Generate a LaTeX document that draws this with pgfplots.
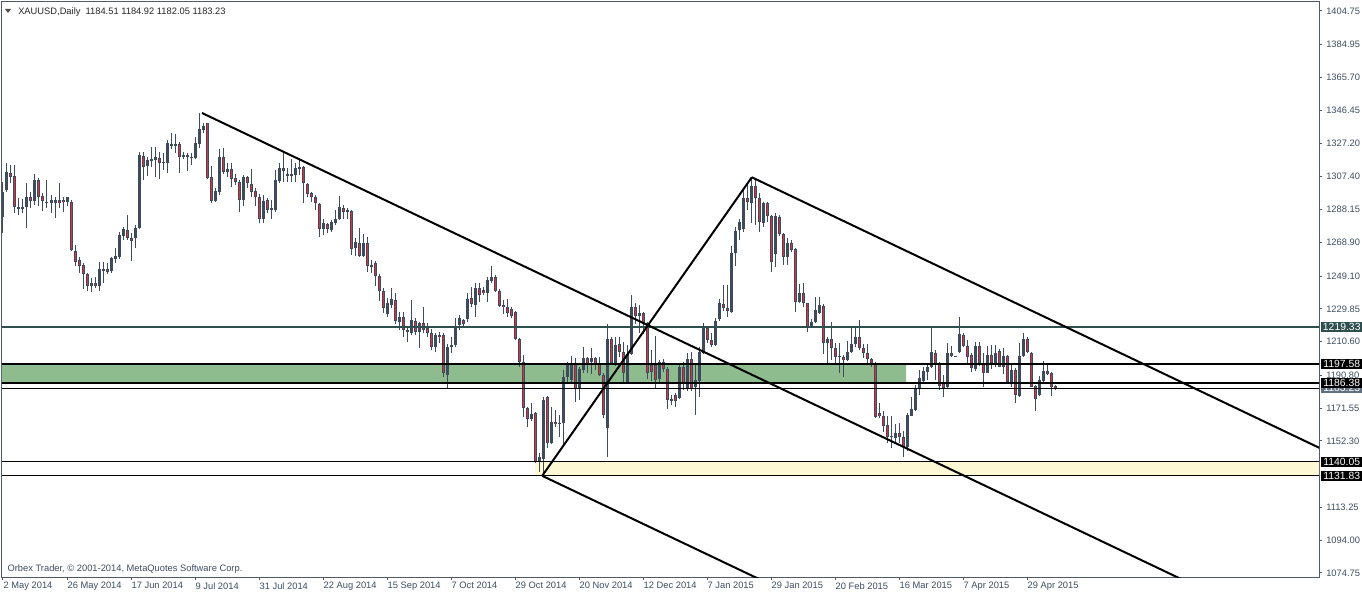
\documentclass[border=0pt]{standalone}
\usepackage{fontspec}
\setmainfont{Liberation Sans}
\usepackage{pgfplots}
\usepackage{pgfplotstable}
\pgfplotsset{compat=1.18}
\definecolor{candle}{RGB}{62,75,92}
\definecolor{bearred}{RGB}{222,47,60}
\definecolor{frame}{RGB}{80,90,102}
\definecolor{lbl}{RGB}{62,78,98}
\definecolor{slate}{RGB}{47,79,79}
\definecolor{zonegreen}{RGB}{143,188,143}
\definecolor{zoneyellow}{RGB}{255,248,212}
\definecolor{bidgray}{RGB}{96,112,128}

\pgfplotstableread{
i o h l c
0 1284.0 1304.5 1274.6 1298.7
1 1299.6 1315.7 1298.7 1310.4
2 1309.4 1314.3 1304.0 1307.5
3 1307.9 1314.3 1286.3 1289.5
4 1289.9 1294.8 1285.0 1288.7
5 1289.5 1294.4 1285.9 1288.3
6 1289.5 1303.6 1277.1 1295.3
7 1295.3 1298.3 1288.9 1293.2
8 1293.4 1309.0 1290.8 1305.5
9 1305.5 1306.5 1290.2 1295.7
10 1296.1 1297.7 1287.5 1293.0
11 1292.8 1305.5 1288.9 1292.2
12 1292.2 1296.7 1285.9 1293.8
13 1291.8 1295.3 1283.0 1293.8
14 1293.8 1303.6 1288.9 1291.8
15 1293.8 1295.7 1286.9 1292.4
16 1292.8 1295.3 1290.2 1295.3
17 1292.8 1293.8 1264.0 1264.4
18 1263.8 1267.4 1255.2 1257.6
19 1258.5 1260.5 1251.1 1255.2
20 1255.6 1257.0 1241.3 1250.3
21 1250.3 1251.1 1240.5 1243.5
22 1243.5 1247.8 1240.0 1245.2
23 1245.2 1248.8 1242.3 1243.5
24 1243.5 1257.6 1240.5 1253.1
25 1252.3 1257.6 1245.2 1253.3
26 1253.3 1256.6 1250.3 1251.7
27 1252.3 1260.5 1250.7 1259.5
28 1258.9 1265.4 1256.6 1260.9
29 1260.5 1275.2 1258.9 1273.2
30 1272.6 1278.1 1270.3 1276.6
31 1276.2 1285.0 1270.3 1271.3
32 1271.3 1274.2 1258.2 1269.9
33 1271.3 1279.1 1265.8 1277.5
34 1277.1 1322.2 1276.6 1320.2
35 1319.6 1322.2 1305.5 1313.3
36 1313.9 1319.2 1307.9 1317.3
37 1316.9 1325.1 1313.3 1317.9
38 1317.3 1324.7 1307.5 1318.8
39 1318.2 1322.2 1305.9 1315.7
40 1316.3 1321.2 1311.4 1315.7
41 1315.7 1329.0 1309.8 1327.4
42 1325.7 1332.9 1323.5 1326.7
43 1326.7 1332.5 1321.2 1325.7
44 1326.7 1328.0 1309.4 1318.8
45 1319.2 1322.2 1317.7 1320.2
46 1320.2 1321.6 1311.0 1319.2
47 1319.2 1321.6 1314.3 1318.4
48 1318.2 1330.6 1317.7 1327.0
49 1326.5 1344.7 1324.1 1335.3
50 1334.9 1338.8 1332.9 1337.2
51 1338.8 1339.2 1305.9 1306.5
52 1307.1 1313.7 1291.8 1293.4
53 1293.4 1300.6 1292.8 1299.3
54 1298.7 1323.5 1296.7 1318.8
55 1318.8 1324.1 1309.0 1310.4
56 1310.4 1315.7 1307.5 1311.8
57 1311.8 1315.3 1301.6 1305.9
58 1306.5 1309.0 1302.6 1304.1
59 1304.5 1305.5 1286.9 1293.8
60 1293.8 1308.5 1290.2 1307.1
61 1307.1 1307.9 1300.6 1303.6
62 1303.2 1311.8 1295.7 1298.7
63 1299.3 1300.6 1290.2 1295.7
64 1295.7 1297.3 1280.1 1282.4
65 1282.4 1296.7 1280.1 1293.4
66 1293.8 1294.8 1285.9 1287.9
67 1287.9 1293.8 1282.4 1288.9
68 1287.9 1311.4 1286.9 1305.5
69 1305.1 1315.3 1303.6 1312.4
70 1312.4 1322.2 1304.5 1311.0
71 1309.0 1312.4 1304.5 1308.3
72 1308.3 1317.7 1304.5 1309.0
73 1308.6 1315.3 1304.5 1312.4
74 1312.4 1318.2 1308.5 1313.3
75 1313.3 1313.7 1292.2 1303.6
76 1303.2 1303.6 1295.7 1297.3
77 1297.7 1298.7 1292.8 1295.3
78 1295.3 1296.7 1287.9 1291.8
79 1291.4 1291.8 1272.2 1276.6
80 1276.6 1282.4 1273.2 1280.1
81 1279.7 1280.5 1274.2 1276.6
82 1276.2 1282.0 1275.2 1281.1
83 1280.5 1287.9 1279.1 1282.6
84 1282.4 1296.1 1282.0 1289.5
85 1288.9 1290.8 1282.4 1286.9
86 1287.5 1288.9 1282.4 1287.1
87 1287.3 1287.9 1261.5 1264.8
88 1265.4 1271.3 1260.9 1269.3
89 1268.7 1277.1 1260.1 1260.9
90 1260.9 1273.8 1260.1 1268.3
91 1268.3 1272.2 1251.7 1255.0
92 1254.6 1258.5 1251.1 1255.6
93 1256.6 1258.2 1243.3 1249.1
94 1249.1 1250.3 1234.7 1240.5
95 1240.3 1241.9 1227.2 1230.2
96 1226.8 1236.0 1224.9 1233.1
97 1232.1 1241.9 1230.2 1235.4
98 1235.1 1239.0 1221.0 1222.9
99 1222.3 1228.2 1217.4 1224.9
100 1224.9 1228.2 1213.5 1217.4
101 1217.4 1219.8 1210.6 1216.5
102 1215.5 1235.1 1214.5 1223.3
103 1222.9 1224.3 1214.5 1216.5
104 1216.5 1222.3 1206.7 1221.4
105 1221.7 1231.1 1215.5 1217.4
106 1218.4 1221.4 1213.1 1215.5
107 1215.5 1217.8 1205.7 1207.7
108 1207.7 1215.5 1204.7 1214.5
109 1214.5 1216.5 1209.6 1213.1
110 1214.5 1215.5 1189.6 1192.0
111 1191.0 1209.2 1183.2 1207.3
112 1207.3 1213.5 1203.7 1208.6
113 1208.6 1224.3 1207.7 1219.8
114 1220.4 1226.2 1217.4 1224.3
115 1223.3 1223.7 1218.4 1221.0
116 1223.7 1239.0 1222.3 1235.4
117 1236.0 1242.5 1231.1 1232.7
118 1232.1 1244.8 1225.3 1241.9
119 1241.9 1244.8 1234.1 1238.0
120 1240.9 1242.9 1238.0 1239.0
121 1239.0 1248.8 1234.1 1246.8
122 1246.4 1255.0 1244.8 1248.8
123 1248.8 1249.7 1239.9 1240.5
124 1240.5 1241.3 1230.7 1231.5
125 1232.1 1235.1 1226.8 1230.7
126 1231.1 1235.4 1225.3 1227.2
127 1229.6 1230.7 1224.3 1225.7
128 1228.2 1228.8 1211.6 1212.0
129 1212.0 1212.5 1195.9 1198.8
130 1198.8 1202.8 1166.2 1171.4
131 1171.4 1172.4 1160.7 1165.0
132 1165.0 1174.4 1164.2 1168.1
133 1168.5 1169.5 1139.1 1140.1
134 1140.1 1145.0 1134.3 1142.7
135 1141.5 1178.3 1131.8 1176.3
136 1178.3 1178.7 1148.0 1151.3
137 1151.3 1172.4 1150.5 1163.6
138 1163.6 1170.5 1160.7 1162.2
139 1162.2 1167.5 1154.4 1163.0
140 1162.6 1193.9 1149.9 1190.0
141 1190.0 1198.8 1186.1 1196.9
142 1188.1 1202.2 1186.1 1197.5
143 1197.5 1200.8 1175.4 1182.6
144 1182.6 1195.9 1176.3 1194.3
145 1193.9 1207.7 1192.0 1200.8
146 1200.8 1201.8 1192.0 1196.9
147 1198.8 1206.7 1191.6 1200.8
148 1200.8 1201.8 1193.9 1197.5
149 1197.5 1201.4 1190.4 1191.0
150 1191.0 1192.4 1165.6 1167.5
151 1159.7 1221.0 1142.7 1212.0
152 1212.0 1213.1 1196.9 1197.9
153 1197.9 1213.1 1196.3 1208.6
154 1209.2 1213.1 1201.8 1204.7
155 1204.7 1210.6 1186.5 1192.0
156 1187.1 1208.6 1186.5 1203.3
157 1203.3 1238.0 1202.8 1231.1
158 1231.1 1233.5 1221.0 1225.7
159 1225.7 1232.1 1215.5 1227.6
160 1227.2 1228.2 1215.1 1221.4
161 1221.8 1222.3 1188.5 1192.0
162 1196.9 1205.7 1187.7 1193.0
163 1196.9 1213.9 1183.2 1188.1
164 1188.5 1199.8 1187.1 1198.8
165 1198.8 1200.2 1193.0 1194.3
166 1194.3 1195.9 1170.9 1176.3
167 1176.7 1179.3 1173.4 1175.9
168 1179.3 1180.3 1172.4 1175.9
169 1177.3 1197.5 1176.7 1195.5
170 1195.5 1198.8 1182.2 1185.7
171 1182.6 1203.7 1181.8 1200.2
172 1200.2 1204.7 1181.8 1182.6
173 1184.2 1197.5 1167.5 1188.1
174 1187.7 1207.7 1177.9 1204.7
175 1204.1 1221.7 1203.3 1219.4
176 1218.4 1219.4 1209.6 1211.6
177 1211.6 1215.9 1207.7 1208.6
178 1208.6 1224.3 1208.0 1222.9
179 1223.7 1235.5 1222.9 1233.1
180 1232.7 1243.9 1228.8 1230.2
181 1230.2 1243.9 1225.3 1228.8
182 1228.2 1266.8 1227.6 1262.9
183 1262.9 1277.7 1255.0 1275.8
184 1276.2 1282.4 1270.3 1281.1
185 1276.5 1300.6 1275.2 1294.8
186 1294.8 1303.9 1287.9 1292.8
187 1292.2 1306.5 1280.1 1302.0
188 1302.0 1305.5 1279.1 1294.8
189 1294.8 1297.7 1275.2 1281.1
190 1280.5 1292.8 1278.1 1291.8
191 1291.8 1292.8 1281.1 1284.4
192 1284.4 1285.0 1251.7 1257.6
193 1262.1 1286.0 1254.6 1284.4
194 1283.6 1285.0 1272.6 1273.8
195 1273.8 1274.6 1255.6 1260.1
196 1260.1 1271.3 1255.6 1268.7
197 1268.7 1270.3 1263.4 1264.4
198 1264.8 1265.4 1228.2 1234.1
199 1234.1 1244.5 1233.1 1239.0
200 1239.0 1245.2 1231.1 1233.1
201 1233.1 1233.5 1216.5 1219.4
202 1219.4 1223.7 1218.4 1222.3
203 1222.3 1236.6 1221.4 1229.2
204 1227.2 1237.0 1226.8 1232.1
205 1231.5 1232.7 1203.3 1209.6
206 1209.6 1213.5 1197.5 1212.0
207 1212.0 1222.3 1199.8 1206.7
208 1206.7 1210.0 1196.9 1201.8
209 1201.8 1210.0 1192.0 1202.2
210 1201.4 1202.8 1190.0 1199.8
211 1199.8 1211.2 1199.4 1204.7
212 1204.7 1219.4 1203.7 1209.2
213 1209.2 1219.4 1207.6 1213.1
214 1213.1 1223.3 1205.7 1206.7
215 1206.7 1209.2 1200.8 1203.7
216 1204.1 1209.2 1197.5 1200.2
217 1200.2 1200.8 1195.9 1197.9
218 1197.9 1198.8 1165.6 1166.2
219 1168.5 1174.8 1165.6 1166.9
220 1166.9 1170.0 1157.7 1161.1
221 1161.7 1166.9 1151.3 1154.8
222 1154.8 1166.9 1148.0 1155.2
223 1153.8 1162.2 1150.5 1156.8
224 1156.8 1163.0 1150.9 1154.4
225 1154.4 1158.3 1142.7 1148.9
226 1148.9 1168.5 1146.6 1167.5
227 1166.9 1177.9 1166.9 1170.9
228 1170.5 1185.1 1170.1 1183.2
229 1183.2 1193.9 1179.3 1189.1
230 1187.7 1195.9 1186.1 1193.5
231 1193.0 1197.5 1188.1 1195.9
232 1195.9 1219.4 1194.9 1204.7
233 1204.1 1205.7 1188.1 1197.5
234 1198.2 1198.8 1182.2 1184.6
235 1186.5 1191.0 1178.3 1183.2
236 1183.8 1209.6 1183.2 1203.7
237 1204.1 1208.0 1201.4 1202.2
238 1202.2 1202.4 1201.6 1201.8
239 1204.7 1224.9 1204.1 1215.1
240 1214.5 1215.5 1207.6 1208.0
241 1208.0 1211.6 1197.5 1201.8
242 1202.8 1203.7 1193.0 1194.9
243 1194.3 1210.6 1193.6 1208.0
244 1208.0 1210.6 1196.3 1198.3
245 1198.3 1203.7 1183.8 1192.4
246 1192.4 1208.0 1192.0 1202.8
247 1202.8 1208.6 1194.3 1197.9
248 1197.9 1208.6 1195.9 1204.1
249 1205.3 1206.1 1195.5 1195.9
250 1195.9 1206.7 1191.6 1202.2
251 1202.2 1202.8 1186.1 1187.1
252 1187.1 1196.9 1183.8 1193.9
253 1193.9 1194.9 1174.8 1179.3
254 1178.7 1209.6 1178.3 1202.2
255 1202.2 1215.5 1201.8 1212.0
256 1212.0 1213.1 1204.1 1204.7
257 1204.1 1204.7 1183.8 1183.8
258 1184.6 1185.1 1170.1 1176.7
259 1179.3 1190.4 1178.7 1188.1
260 1187.7 1199.4 1187.1 1193.5
261 1193.5 1197.5 1191.0 1191.6
262 1192.3 1192.9 1178.7 1184.2
263 1184.51 1184.92 1182.05 1183.23
}\gold

\begin{document}
\begin{tikzpicture}[font=\fontsize{7}{8.4}\selectfont]
\fill[white] (-1.5pt,-12.75pt) rectangle (1020pt,432.75pt);
\begin{axis}[
  at={(0pt,0pt)}, anchor=south west,
  scale only axis, width=987.75pt, height=431.25pt,
  xmin=-0.25, xmax=329, ymin=1072.39, ymax=1410.03,
  axis line style={draw=frame, line width=0.75pt},
  tick align=outside,
  xtick pos=left, ytick pos=right,
  yticklabel pos=right,
  major tick length=2.25pt,
  tick style={draw=frame, line width=0.75pt},
  xtick={0,16,32,48,64,80,96,112,128,144,160,176,192,208,224,240,256},
  xticklabels={2 May 2014,26 May 2014,17 Jun 2014,9 Jul 2014,31 Jul 2014,22 Aug 2014,15 Sep 2014,7 Oct 2014,29 Oct 2014,20 Nov 2014,12 Dec 2014,7 Jan 2015,29 Jan 2015,20 Feb 2015,16 Mar 2015,7 Apr 2015,29 Apr 2015},
  ytick={1404.75,1384.95,1365.70,1346.45,1327.20,1307.40,1288.15,1268.90,1249.10,1229.85,1210.60,1190.80,1171.55,1152.30,1113.25,1094.00,1074.75},
  yticklabels={1404.75,1384.95,1365.70,1346.45,1327.20,1307.40,1288.15,1268.90,1249.10,1229.85,1210.60,1190.80,1171.55,1152.30,1113.25,1094.00,1074.75},
  tick label style={font=\fontsize{7}{8.4}\selectfont, text=lbl},
  xticklabel style={anchor=north west, inner sep=0pt, xshift=0.3pt, yshift=-1.5pt},
  yticklabel style={anchor=west, inner sep=0pt, xshift=3pt},
]
% background zones
\addplot[draw=none, fill=zonegreen] coordinates {(-1,1186.38) (225.75,1186.38) (225.75,1197.58) (-1,1197.58) (-1,1186.38)};
\addplot[draw=none, fill=zoneyellow] coordinates {(133,1131.83) (330,1131.83) (330,1140.05) (133,1140.05) (133,1131.83)};
% candles: wicks
\addplot[draw=none, mark=none, error bars/.cd, y dir=both, y explicit, error mark=none,
  error bar style={draw=candle, line width=0.75pt}]
  table[x=i, y expr={(\thisrow{h}+\thisrow{l})/2}, y error expr={(\thisrow{h}-\thisrow{l})/2}] {\gold};
% candles: bodies
\addplot[draw=none, mark=none, error bars/.cd, y dir=both, y explicit, error mark=none,
  error bar style={draw=candle, line width=2.25pt}]
  table[x=i, y expr={(\thisrow{o}+\thisrow{c})/2}, y error expr={max(abs(\thisrow{o}-\thisrow{c})/2,0.3)}] {\gold};
% bear interiors
\addplot[draw=none, mark=none, error bars/.cd, y dir=both, y explicit, error mark=none,
  error bar style={draw=bearred, line width=0.75pt}]
  table[x=i, y expr={(\thisrow{o}+\thisrow{c})/2}, y error expr={\thisrow{o}>\thisrow{c} ? max((\thisrow{o}-\thisrow{c})/2-0.6,0) : 0}] {\gold};
% horizontal lines
\addplot[slate, line width=1.3pt] coordinates {(-1,1219.33) (330,1219.33)};
\addplot[black, line width=1.7pt] coordinates {(-1,1197.58) (330,1197.58)};
\addplot[black, line width=1.7pt] coordinates {(-1,1186.38) (330,1186.38)};
\addplot[black, line width=0.75pt] coordinates {(-1,1183.23) (330,1183.23)};
\addplot[black, line width=0.75pt] coordinates {(-1,1140.05) (330,1140.05)};
\addplot[black, line width=0.75pt] coordinates {(-1,1131.83) (330,1131.83)};
% trend lines
\addplot[black, line width=1.5pt] coordinates {(49.75,1344.85) (300,1065.07)};
\addplot[black, line width=1.5pt] coordinates {(187.2,1307.1) (330,1147.2)};
\addplot[black, line width=1.5pt] coordinates {(134.8,1131.8) (187.2,1307.1)};
\addplot[black, line width=1.5pt] coordinates {(134.8,1131.8) (250,1003.0)};
\coordinate (r1) at (axis cs:329,1219.33);
\coordinate (r2) at (axis cs:329,1197.58);
\coordinate (r3) at (axis cs:329,1186.38);
\coordinate (r4) at (axis cs:329,1183.23);
\coordinate (r5) at (axis cs:329,1140.05);
\coordinate (r6) at (axis cs:329,1131.83);
\end{axis}
\tikzset{pricebox/.style={anchor=west, inner sep=0pt, minimum width=31.5pt, minimum height=7.5pt, text=white, xshift=1.1pt, font=\fontsize{7.8}{8}\selectfont}}
\node[pricebox, fill=slate] at (r1) {1219.33};
\node[pricebox, fill=black] at (r2) {1197.58};
\node[pricebox, fill=bidgray] at (r4) {1183.23};
\node[pricebox, fill=black] at (r3) {1186.38};
\node[pricebox, fill=black] at (r5) {1140.05};
\node[pricebox, fill=black] at (r6) {1131.83};
% header
\fill[black!70] (2.25pt,426pt) -- (6.75pt,426pt) -- (4.5pt,423pt) -- cycle;
\node[anchor=base west, inner sep=0pt, text=black!85] at (12pt,421.5pt) {XAUUSD,Daily\ \ 1184.51 1184.92 1182.05 1183.23};
\node[anchor=base west, inner sep=0pt, text=lbl] at (4pt,4pt) {Orbex Trader, © 2001-2014, MetaQuotes Software Corp.};
\pgfresetboundingbox
\path (-1.5pt,-12.75pt) rectangle (1020pt,432.75pt);
\end{tikzpicture}
\end{document}
